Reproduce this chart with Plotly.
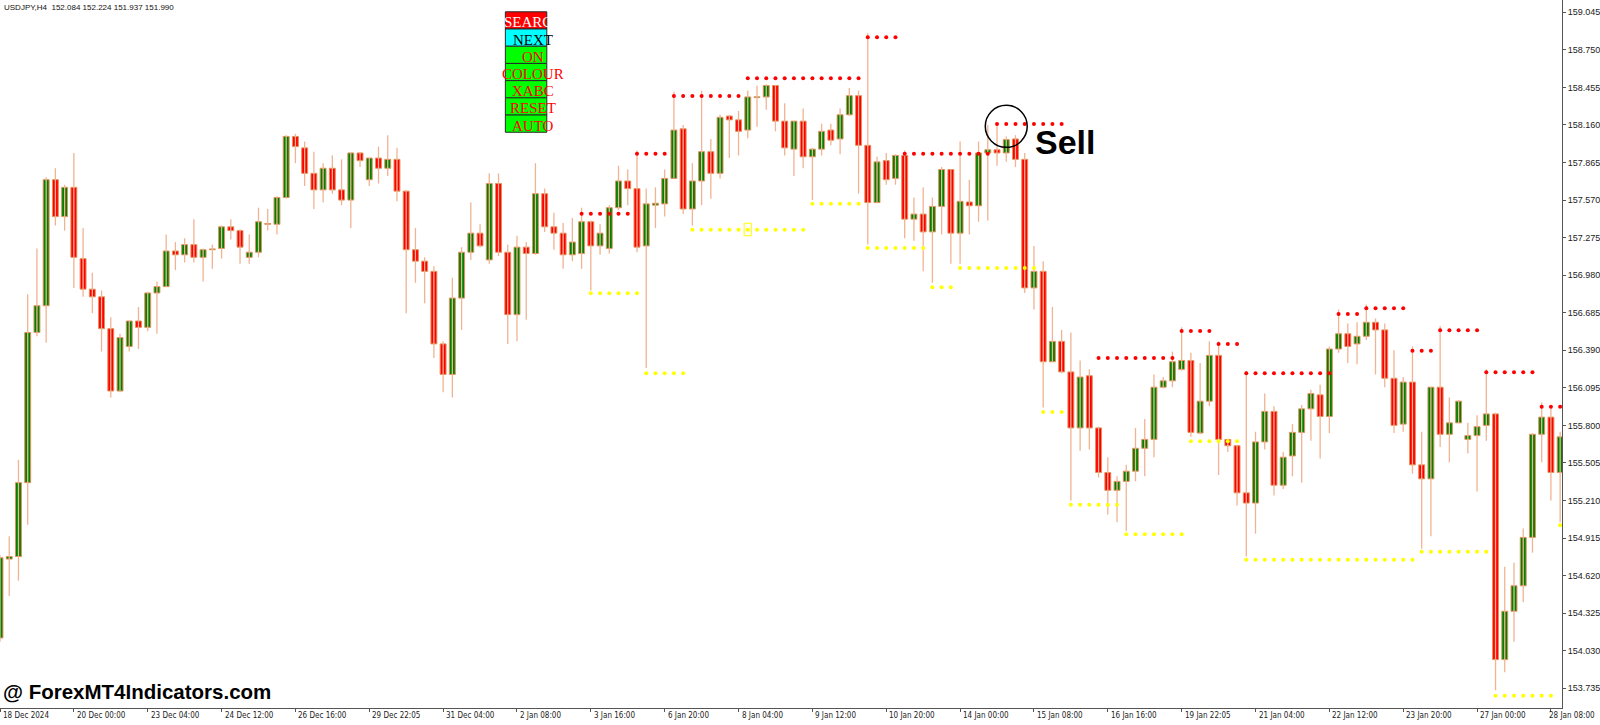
import plotly.graph_objects as go

# ---------------- data ----------------
opens = [154.13,154.75,154.77,155.35,156.53,156.74,157.73,157.44,157.67,157.11,
         156.87,156.81,156.56,156.07,156.42,156.62,156.57,156.84,156.89,157.17,
         157.14,157.22,157.12,157.18,157.19,157.36,157.33,157.12,157.16,157.38,
         157.38,157.59,158.07,157.98,157.78,157.65,157.82,157.65,157.57,157.94,
         157.73,157.90,157.82,157.89,157.64,157.18,157.09,157.01,156.44,156.20,
         156.80,157.16,157.31,157.10,157.70,157.16,156.67,157.20,157.15,157.62,
         157.36,157.31,157.14,157.15,157.40,157.21,157.19,157.51,157.72,157.66,
         157.21,157.53,157.54,157.74,158.13,157.50,157.72,157.95,157.78,158.23,
         158.20,158.12,158.375,158.38,158.47,158.19,157.97,158.19,157.91,157.97,
         158.12,158.05,158.24,158.39,158.00,157.55,157.88,157.74,157.92,157.42,
         157.46,157.32,157.52,157.81,157.31,157.555,157.525,157.94,157.965,157.94,
         158.05,157.89,156.88,157.01,156.30,156.46,156.22,155.78,156.19,155.78,
         155.43,155.29,155.36,155.44,155.62,155.69,156.10,156.15,156.24,156.31,
         155.74,155.99,156.35,155.69,155.64,155.27,155.19,155.67,155.91,155.33,
         155.56,155.745,155.93,156.04,155.87,156.40,156.52,156.44,156.50,156.61,
         156.55,156.17,155.81,156.14,155.49,155.38,156.10,155.73,155.82,155.69,
         155.72,155.80,155.89,153.96,154.34,154.54,154.92,155.73,155.865,155.43]

highs = [154.78,154.93,155.53,156.83,157.19,157.75,157.82,157.69,157.94,157.35,
         157.00,156.86,156.65,156.52,156.62,156.73,156.85,156.93,157.30,157.24,
         157.27,157.42,157.19,157.22,157.37,157.42,157.34,157.30,157.51,157.50,
         157.60,158.08,158.09,158.03,157.95,157.86,157.92,157.89,157.94,157.945,
         157.90,157.99,158.08,157.98,157.65,157.35,157.12,157.05,156.46,156.96,
         157.20,157.55,157.38,157.78,157.78,157.22,157.29,157.24,157.86,157.66,
         157.47,157.39,157.43,157.51,157.41,157.38,157.53,157.84,157.81,157.96,
         157.66,157.67,157.81,158.42,158.16,157.86,158.43,158.05,158.24,158.24,
         158.27,158.43,158.47,158.48,158.47,158.33,158.19,158.29,157.98,158.17,
         158.17,158.29,158.45,158.43,158.88,157.91,157.94,157.93,157.96,157.59,
         157.67,157.59,157.83,157.81,158.03,157.73,158.03,158.16,158.16,158.07,
         158.08,157.94,157.21,157.09,156.73,156.55,156.53,156.31,156.24,155.79,
         155.55,155.40,155.49,155.78,155.85,156.20,156.18,156.38,156.57,156.37,
         156.29,156.46,156.46,155.69,155.64,156.23,155.75,156.05,155.95,155.59,
         155.81,155.96,156.08,156.12,156.42,156.71,156.60,156.61,156.75,156.64,
         156.60,156.39,156.18,156.42,155.75,156.10,156.58,156.02,156.00,155.82,
         155.88,156.24,155.90,154.69,154.72,154.99,155.74,155.98,155.95,155.75]

lows = [154.10,154.46,154.58,155.02,156.50,156.45,157.37,157.33,156.88,156.81,
        156.68,156.38,156.02,156.06,156.38,156.40,156.54,156.52,156.89,157.02,
        157.08,157.08,156.93,157.03,157.11,157.26,157.07,157.07,157.12,157.33,
        157.30,157.58,157.86,157.68,157.50,157.55,157.62,157.53,157.35,157.83,
        157.68,157.70,157.76,157.56,156.68,156.92,156.76,156.33,156.06,156.02,
        156.55,157.10,157.20,157.07,157.13,156.44,156.46,156.63,157.14,157.32,
        157.18,157.03,157.09,157.03,156.86,157.14,157.15,157.49,157.53,157.16,
        156.25,157.35,157.44,157.74,157.46,157.37,157.53,157.58,157.74,157.90,
        157.92,158.055,158.145,158.28,158.11,157.92,157.76,157.82,157.57,157.92,
        158.00,157.93,158.23,157.62,157.22,157.55,157.69,157.69,157.27,157.25,
        157.01,156.92,157.30,157.07,157.07,157.30,157.40,157.41,157.84,157.87,
        157.83,156.84,156.71,155.94,156.30,156.21,155.21,155.60,155.61,155.39,
        155.10,155.04,154.97,155.36,155.40,155.55,156.09,156.10,156.23,155.71,
        155.73,155.95,155.41,155.59,155.17,154.77,154.95,155.61,155.25,155.30,
        155.40,155.35,155.68,155.54,155.74,156.37,156.29,156.28,156.47,156.20,
        156.10,155.74,155.75,155.42,154.83,154.93,155.63,155.51,155.82,155.58,
        155.28,155.68,153.72,153.86,154.10,154.41,154.80,155.51,155.21,155.04]

closes = [154.76,154.77,155.35,156.53,156.74,157.73,157.44,157.67,157.12,156.87,
          156.81,156.56,156.07,156.49,156.62,156.57,156.84,156.89,157.17,157.14,
          157.22,157.12,157.18,157.18,157.36,157.33,157.20,157.16,157.40,157.385,
          157.59,158.07,157.99,157.78,157.65,157.82,157.65,157.57,157.94,157.88,
          157.90,157.82,157.89,157.64,157.18,157.09,157.01,156.44,156.20,156.80,
          157.16,157.31,157.21,157.70,157.16,156.67,157.20,157.15,157.62,157.36,
          157.31,157.14,157.24,157.40,157.21,157.31,157.51,157.72,157.66,157.20,
          157.54,157.545,157.74,158.12,157.50,157.72,157.95,157.78,158.22,158.20,
          158.11,158.38,158.38,158.47,158.19,157.98,158.19,157.91,157.97,158.11,
          158.04,158.24,158.39,158.00,157.55,157.87,157.73,157.92,157.42,157.46,
          157.32,157.52,157.81,157.31,157.56,157.525,157.94,157.965,157.94,158.045,
          157.89,156.88,157.01,156.30,156.46,156.22,155.78,156.18,155.78,155.43,
          155.29,155.36,155.44,155.62,155.69,156.10,156.15,156.30,156.31,155.745,
          155.99,156.35,155.69,155.64,155.27,155.19,155.67,155.91,155.33,155.55,
          155.745,155.93,156.05,155.87,156.40,156.52,156.42,156.50,156.61,156.55,
          156.17,155.80,156.14,155.49,155.38,156.10,155.73,155.82,155.99,155.72,
          155.79,155.89,153.96,154.34,154.54,154.92,155.73,155.865,155.43,155.71]

time_labels = ["18 Dec 2024", "20 Dec 00:00", "23 Dec 04:00", "24 Dec 12:00",
               "26 Dec 16:00", "29 Dec 22:05", "31 Dec 04:00", "2 Jan 08:00",
               "3 Jan 16:00", "6 Jan 20:00", "8 Jan 04:00", "9 Jan 12:00",
               "10 Jan 20:00", "14 Jan 00:00", "15 Jan 08:00", "16 Jan 16:00",
               "19 Jan 22:05", "21 Jan 04:00", "22 Jan 12:00", "23 Jan 20:00",
               "27 Jan 00:00", "28 Jan 08:00"]
bars_per_label = 8

price_ticks = [159.045, 158.750, 158.455, 158.160, 157.865, 157.570, 157.275,
               156.980, 156.685, 156.390, 156.095, 155.800, 155.505, 155.210,
               154.915, 154.620, 154.325, 154.030, 153.735]

# (first bar, last bar, price)
red_levels = [(63, 68, 157.463), (69, 72, 157.934), (73, 80, 158.388),
              (81, 93, 158.527), (94, 97, 158.849), (98, 107, 157.934),
              (108, 115, 158.168), (119, 127, 156.329), (128, 131, 156.541),
              (132, 134, 156.439), (135, 144, 156.209), (145, 147, 156.675),
              (148, 152, 156.720), (153, 155, 156.387), (156, 160, 156.547),
              (161, 166, 156.217), (167, 169, 155.947)]
yellow_levels = [(64, 69, 156.838), (70, 74, 156.209), (75, 87, 157.337),
                 (88, 93, 157.541), (94, 100, 157.193), (101, 103, 156.885),
                 (104, 112, 157.036), (113, 115, 155.905), (116, 121, 155.177),
                 (122, 128, 154.945), (129, 134, 155.675), (135, 153, 154.744),
                 (154, 161, 154.808), (162, 168, 153.677), (169, 169, 155.015)]
marker_bar, marker_price = 81, 157.337

sell_bar, sell_price = 109.0, 158.149
sell_text = "Sell"

buttons = ["SEARCH", "NEXT", "ON", "COLOUR", "XABC", "RESET", "AUTO"]
button_fill = ["#FF0000", "#00FFFF", "#00FF00", "#00FF00", "#00FF00", "#00FF00", "#00FF00"]
button_text = ["#FFFFFF", "#000000", "#FF0000", "#FF0000", "#FF0000", "#FF0000", "#FF0000"]

header = "USDJPY,H4\u00a0\u00a0152.084 152.224 151.937 151.990"
watermark = "@ ForexMT4Indicators.com"

# ---------------- geometry / style ----------------
W, H = 1600, 725
ML, MR, MT, MB = 0, 36, 0, 17
PW, PH = W - ML - MR, H - MT - MB
PX_PER_UNIT = 127.3
Y_TOP = 159.1416
X_RANGE = [0, 169.2]
Y_RANGE = [Y_TOP - PH / PX_PER_UNIT, Y_TOP]
PX_PER_BAR = PW / (X_RANGE[1] - X_RANGE[0])

WICK = "#F0B492"
BORDER = "#E0915C"
GREEN = "#008000"
RED = "#FF0000"
AXIS = "#555555"
NARROW = "Liberation Sans Narrow, Arial Narrow, DejaVu Sans Condensed, Liberation Sans, sans-serif"
SANS = "Liberation Sans, Arial, sans-serif"
SERIF = "Liberation Serif, Times New Roman, serif"


def px_x(px):
    return px / PW


def px_y(py):
    return 1 - py / PH


n = len(opens)
idx = list(range(n))

fig = go.Figure()

# wicks
wx, wy = [], []
for i in idx:
    wx += [i, i, None]
    wy += [lows[i], highs[i], None]
fig.add_trace(go.Scatter(x=wx, y=wy, mode="lines", line=dict(color=WICK, width=1.3),
                         hoverinfo="skip", showlegend=False))

# bodies
for up, col in ((True, GREEN), (False, RED)):
    xs = [i for i in idx if (closes[i] >= opens[i]) == up]
    base = [min(opens[i], closes[i]) for i in xs]
    hgt = [max(abs(closes[i] - opens[i]), 0.006) for i in xs]
    fig.add_trace(go.Bar(x=xs, y=hgt, base=base, width=0.64,
                         marker=dict(color=col, line=dict(color=BORDER, width=1)),
                         hoverinfo="skip", showlegend=False))


def dots(levels):
    xs, ys = [], []
    for a, b, v in levels:
        for i in range(a, b + 1):
            xs.append(i)
            ys.append(v)
    return xs, ys


for levels, col in ((yellow_levels, "#FFFF00"), (red_levels, "#FF0000")):
    dx, dy = dots(levels)
    fig.add_trace(go.Scatter(x=dx, y=dy, mode="markers",
                             marker=dict(color=col, size=4, symbol="circle", line=dict(width=0)),
                             hoverinfo="skip", showlegend=False))

shapes = []
annotations = []

# small yellow marker box
shapes.append(dict(type="rect", xref="x", yref="y",
                    x0=marker_bar - 3.6 / PX_PER_BAR, x1=marker_bar + 3.6 / PX_PER_BAR,
                    y0=marker_price - 6 / PX_PER_UNIT, y1=marker_price + 6.5 / PX_PER_UNIT,
                    line=dict(color="#FFFF00", width=1)))

# sell circle + text
r_px = 21
shapes.append(dict(type="circle", xref="x", yref="y",
                    x0=sell_bar - r_px / PX_PER_BAR, x1=sell_bar + r_px / PX_PER_BAR,
                    y0=sell_price - r_px / PX_PER_UNIT, y1=sell_price + r_px / PX_PER_UNIT,
                    line=dict(color="#000000", width=1.5)))
annotations.append(dict(x=sell_bar + 27 / PX_PER_BAR, y=sell_price - 16 / PX_PER_UNIT,
                        xref="x", yref="y", text="<b>%s</b>" % sell_text, showarrow=False,
                        xanchor="left", yanchor="middle",
                        font=dict(family=SANS, size=34, color="#000000")))

# buttons
bx0, bx1, by0, bh = 506, 547.5, 11.8, 17.21
for k, lab in enumerate(buttons):
    t = by0 + k * bh
    shapes.append(dict(type="rect", xref="paper", yref="paper",
                        x0=px_x(bx0), x1=px_x(bx1), y0=px_y(t + bh), y1=px_y(t),
                        fillcolor=button_fill[k], line=dict(color="#2A2A2A", width=1), layer="above"))
    annotations.append(dict(x=px_x(534), y=px_y(t + bh / 2 + 2), xref="paper", yref="paper",
                            text=lab, showarrow=False, xanchor="center", yanchor="middle",
                            font=dict(family=SERIF, size=15, color=button_text[k])))

# header and watermark
annotations.append(dict(x=px_x(2), y=px_y(7), xref="paper", yref="paper", text=header,
                        showarrow=False, xanchor="left", yanchor="middle",
                        font=dict(family=SANS, size=8, color="#111111")))
annotations.append(dict(x=px_x(1), y=px_y(691), xref="paper", yref="paper",
                        text="<b>%s</b>" % watermark, showarrow=False,
                        xanchor="left", yanchor="middle",
                        font=dict(family=SANS, size=20.5, color="#000000")))

# time labels
tick_bars = [k * bars_per_label for k in range(len(time_labels))]
for j, (b, lab) in enumerate(zip(tick_bars, time_labels)):
    last = j == len(time_labels) - 1
    if last:
        ann = dict(x=px_x(W - 1), xref="paper", xanchor="right")
    else:
        ann = dict(x=b, xref="x", xanchor="left", xshift=1)
    ann.update(y=px_y(PH + 8), yref="paper", text=lab, showarrow=False, yanchor="middle",
               font=dict(family=NARROW, size=8, color="#222222"))
    annotations.append(ann)

fig.update_layout(
    width=W, height=H,
    margin=dict(l=ML, r=MR, t=MT, b=MB, pad=0),
    paper_bgcolor="#FFFFFF", plot_bgcolor="#FFFFFF",
    barmode="overlay", showlegend=False, hovermode=False,
    shapes=shapes, annotations=annotations,
    xaxis=dict(range=X_RANGE, showgrid=False, zeroline=False, showline=True,
               linecolor=AXIS, linewidth=1, ticks="outside", ticklen=3, tickcolor=AXIS,
               tickvals=tick_bars, showticklabels=False, fixedrange=True),
    yaxis=dict(range=Y_RANGE, side="right", showgrid=False, zeroline=False, showline=True,
               linecolor=AXIS, linewidth=1, ticks="outside", ticklen=3, tickcolor=AXIS,
               tickvals=price_ticks, ticktext=["%.3f" % v for v in price_ticks],
               tickfont=dict(family=SANS, size=9, color="#222222"), fixedrange=True),
)

fig.write_html("out.html", config={"displayModeBar": False},
               post_script="document.body.style.margin='0';")
